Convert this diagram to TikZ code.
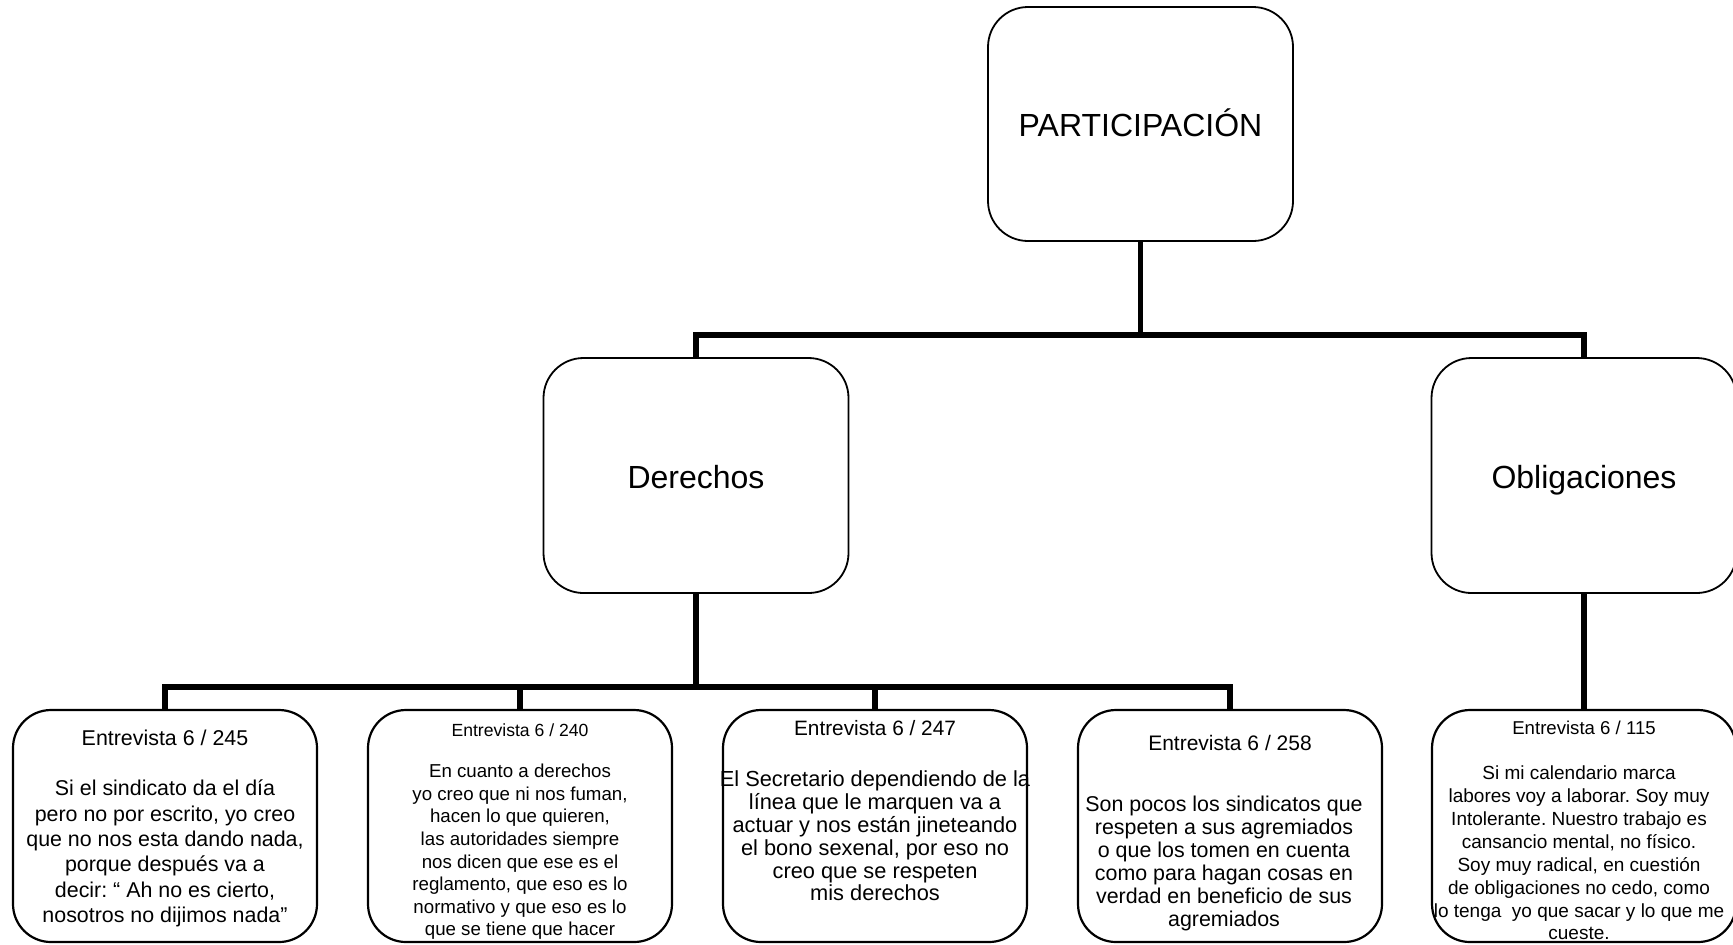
\documentclass[tikz,border=0pt]{standalone}
\usepackage{fontspec}
\setmainfont{Liberation Sans}
\usepackage{tikz}
\frenchspacing

\tikzset{
  bigbox/.style={draw, line width=0.9pt, rounded corners=20pt, minimum width=152.5pt,
    minimum height=117.5pt, inner sep=0pt, text height=15.5pt, text depth=3pt,
    font=\fontsize{16}{19}\selectfont},
  quotebox/.style={draw, line width=1.1pt, rounded corners=19pt, minimum width=152pt,
    minimum height=116pt, inner sep=0pt},
  quote/.style={align=center, inner sep=0pt},
  bus/.style={line width=2.7pt}
}

\begin{document}
\begin{tikzpicture}[x=0.5pt,y=-0.5pt]
  \useasboundingbox (0,0) rectangle (1733,944);
  % top level
  \node[bigbox, minimum height=117pt] (part) at (1140.5,124) {PARTICIPACIÓN};
  \node[bigbox] (der) at (696,475.5) {Derechos};
  \node[bigbox] (obl) at (1584,475.5) {Obligaciones};
  % interview boxes
  \node[quotebox] (e245) at (165,826) {};
  \node[quotebox] (e240) at (520,826) {};
  \node[quotebox] (e247) at (875,826) {};
  \node[quotebox] (e258) at (1230,826) {};
  \node[quotebox] (e115) at (1584,826) {};
  % texts
  \node[quote, font=\fontsize{10.7}{12.65}\selectfont] (e245h) at (165,738) {Entrevista 6 / 245};
  \node[quote, font=\fontsize{10.7}{12.65}\selectfont] (e245t) at (165,853.5)
    {Si el sindicato da el día\\pero no por escrito, yo creo\\que no nos esta dando nada,\\porque después va a\\decir: “ Ah no es cierto,\\nosotros no dijimos nada”};
  \node[quote, font=\fontsize{8.8}{11.3}\selectfont] (e240h) at (520,730) {Entrevista 6 / 240};
  \node[quote, font=\fontsize{9.35}{11.3}\selectfont] (e240t) at (520,852)
    {En cuanto a derechos\\yo creo que ni nos fuman,\\hacen lo que quieren,\\las autoridades siempre\\nos dicen que ese es el\\reglamento, que eso es lo\\normativo y que eso es lo\\que se tiene que hacer};
  \node[quote, font=\fontsize{10.4}{11.4}\selectfont] (e247h) at (875,728) {Entrevista 6 / 247};
  \node[quote, font=\fontsize{10.9}{11.4}\selectfont] (e247t) at (875,836)
    {El Secretario dependiendo de la\\línea que le marquen va a\\actuar y nos están jineteando\\el bono sexenal, por eso no\\creo que se respeten\\mis derechos};
  \node[quote, font=\fontsize{10.5}{11.5}\selectfont] (e258h) at (1230,743) {Entrevista 6 / 258};
  \node[quote, font=\fontsize{10.7}{11.5}\selectfont] (e258t) at (1224,863.5)
    {Son pocos los sindicatos que\\respeten a sus agremiados\\o que los tomen en cuenta\\como para hagan cosas en\\verdad en beneficio de sus\\agremiados};
  \node[quote, font=\fontsize{9.3}{11.45}\selectfont] (e115h) at (1584,728) {Entrevista 6 / 115};
  \node[quote, font=\fontsize{9.5}{11.45}\selectfont] (e115t) at (1579,853)
    {Si mi calendario marca\\labores voy a laborar. Soy muy\\Intolerante. Nuestro trabajo es\\cansancio mental, no físico.\\Soy muy radical, en cuestión\\de obligaciones no cedo, como\\lo tenga\ \ yo que sacar y lo que me\\cueste.};
  % connectors
  \draw[bus] (part.south) -- ++(0,93) coordinate (partbus);
  \draw[bus] (der.north) |- (partbus) -| (obl.north);
  \draw[bus] (der.south) -- ++(0,93) coordinate (derbus);
  \draw[bus] (e245.north) |- (derbus) -| (e258.north);
  \draw[bus] (e240.north) -- (e240.north |- derbus);
  \draw[bus] (e247.north) -- (e247.north |- derbus);
  \draw[bus] (obl.south) -- (e115.north);
\end{tikzpicture}
\end{document}
